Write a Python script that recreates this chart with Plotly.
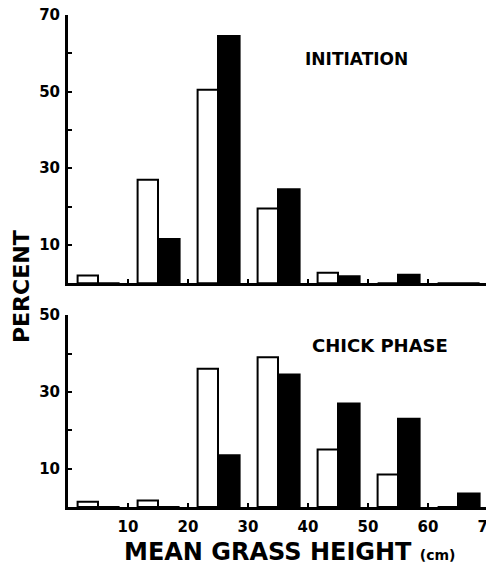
import plotly.graph_objects as go

# Grass height classes (centre of each 10-cm class)
classes = [5, 15, 25, 35, 45, 55, 65]
# INITIATION panel (percent)
init_open = [2, 27, 50.5, 19.5, 2.7, 0, 0]
init_filled = [0, 11.5, 64.5, 24.5, 1.8, 2.2, 0]
# CHICK PHASE panel (percent)
chick_open = [1.4, 1.7, 36, 39, 15, 8.5, 0]
chick_filled = [0, 0, 13.5, 34.5, 27, 23, 3.5]

x_ticks = [10, 20, 30, 40, 50, 60, 70]
top_yticks = [10, 20, 30, 40, 50, 60, 70]
top_ytext = ["10", "", "30", "", "50", "", "70"]
bot_yticks = [10, 20, 30, 40, 50]
bot_ytext = ["10", "", "30", "", "50"]

FONT = "DejaVu Sans"
fig = go.Figure()

def add_pair(openv, filledv, xa, ya):
    fig.add_trace(go.Bar(x=classes, y=openv, xaxis=xa, yaxis=ya,
                         offset=-3.4, width=3.4,
                         marker=dict(color="white", line=dict(color="black", width=2)),
                         showlegend=False))
    fig.add_trace(go.Bar(x=classes, y=filledv, xaxis=xa, yaxis=ya,
                         offset=0, width=3.6,
                         marker=dict(color="black", line=dict(color="black", width=2)),
                         showlegend=False))

add_pair(init_open, init_filled, "x", "y")
add_pair(chick_open, chick_filled, "x2", "y2")

axis_common = dict(showline=True, linecolor="black", linewidth=3, showgrid=False,
                   zeroline=False, ticks="inside", ticklen=4, tickwidth=1.5,
                   tickcolor="black", automargin=False, ticklabeloverflow="allow",
                   tickfont=dict(family=FONT, size=15, color="black", weight="bold"))

# page body has an 8px margin, so the figure is sized to fit the 494x569 window
fig.update_layout(
    width=486, height=561,
    margin=dict(l=60, r=6, t=7, b=62, autoexpand=False),
    paper_bgcolor="white", plot_bgcolor="white",
    barmode="overlay",
    xaxis=dict(domain=[0, 1], range=[0, 70], anchor="y", tickvals=x_ticks,
               showticklabels=False, **axis_common),
    yaxis=dict(domain=[0.455, 1], range=[0, 70], anchor="x", tickvals=top_yticks,
               ticktext=top_ytext, ticklabelstandoff=2, **axis_common),
    xaxis2=dict(domain=[0, 1], range=[0, 70], anchor="y2", tickvals=x_ticks,
                ticklabelstandoff=4, **axis_common),
    yaxis2=dict(domain=[0, 0.39], range=[0, 50], anchor="x2", tickvals=bot_yticks,
                ticktext=bot_ytext, ticklabelstandoff=2, **axis_common),
    annotations=[
        dict(text="INITIATION", x=0.686, y=0.9106, xref="paper", yref="paper",
             xanchor="center", yanchor="middle", showarrow=False,
             font=dict(family=FONT, size=17, color="black", weight="bold")),
        dict(text="CHICK PHASE", x=0.743, y=0.329, xref="paper", yref="paper",
             xanchor="center", yanchor="middle", showarrow=False,
             font=dict(family=FONT, size=18, color="black", weight="bold")),
        dict(text="PERCENT", x=-0.112, y=0.449, xref="paper", yref="paper", textangle=-90,
             xanchor="center", yanchor="middle", showarrow=False,
             font=dict(family=FONT, size=22, color="black", weight="bold")),
        dict(text='MEAN GRASS HEIGHT <span style="font-size:14px">(cm)</span>',
             x=0.1286, y=-0.0915, xref="paper", yref="paper", xanchor="left",
             yanchor="middle", showarrow=False,
             font=dict(family=FONT, size=24, color="black", weight="bold")),
    ],
)

fig.write_html("out.html")
